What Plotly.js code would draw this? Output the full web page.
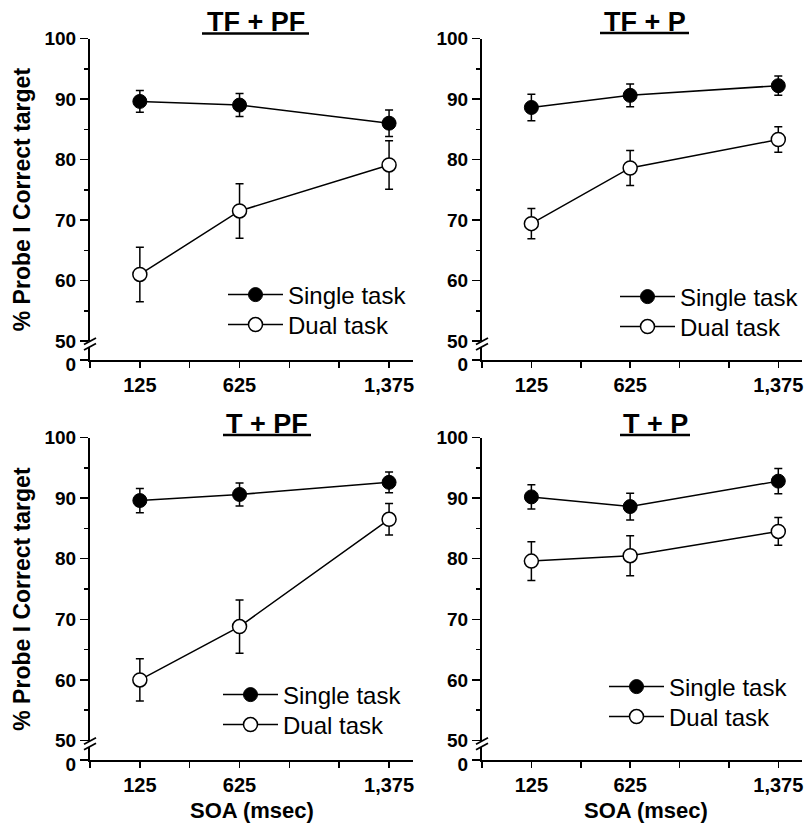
<!DOCTYPE html>
<html><head><meta charset="utf-8">
<script src="https://cdn.plot.ly/plotly-3.0.1.min.js"></script>
<style>html,body{margin:0;padding:0;background:#fff}#chart{width:805px;height:824px}</style>
</head><body><div id="chart"></div>
<script>
// ---- data ----
const soa = [125, 625, 1375];
const panelTitles = ['TF + PF', 'TF + P', 'T + PF', 'T + P'];
const seriesNames = ['Single task', 'Dual task'];

const singleTFPF = [89.6, 89.0, 86.0];
const singleTFPFerr = [1.8, 1.9, 2.2];
const dualTFPF = [61.0, 71.5, 79.1];
const dualTFPFerr = [4.5, 4.5, 4.0];

const singleTFP = [88.6, 90.6, 92.2];
const singleTFPerr = [2.2, 1.9, 1.6];
const dualTFP = [69.4, 78.6, 83.3];
const dualTFPerr = [2.5, 2.9, 2.1];

const singleTPF = [89.6, 90.6, 92.6];
const singleTPFerr = [2.0, 1.9, 1.7];
const dualTPF = [60.0, 68.8, 86.5];
const dualTPFerr = [3.5, 4.4, 2.6];

const singleTP = [90.2, 88.6, 92.8];
const singleTPerr = [2.0, 2.2, 2.1];
const dualTP = [79.6, 80.5, 84.5];
const dualTPerr = [3.2, 3.3, 2.3];

const xTickVals = [-125, 125, 375, 625, 875, 1125, 1375];
const xTickText = ['', '125', '', '625', '', '', '1,375'];
const yTickVals = [50, 60, 70, 80, 90, 100];
const yTickText = ['50', '60', '70', '80', '90', '100'];
const yMinorVals = [55, 65, 75, 85, 95];
const yLowTickVals = [0];
const yLowTickText = ['0'];
const yTitle = '% Probe I Correct target';
const xTitle = 'SOA (msec)';

// ---- layout helpers ----
const W = 805, H = 824;
const px = v => v / W;
const py = v => 1 - v / H;
const FONT = 'Liberation Sans, Arial, Helvetica, sans-serif';

const panels = [
  {single: singleTFPF, sErr: singleTFPFerr, dual: dualTFPF, dErr: dualTFPFerr,
   x0: 90, x1: 413, top: 38.5, mid: 341, lowTop: 347, bot: 360,
   title: {x: 255.5, y: 22, ux0: 202, ux1: 309, uy: 33.5},
   legend: {x: 223, y1: 295, y2: 325}, showY: true, showX: false},
  {single: singleTFP, sErr: singleTFPerr, dual: dualTFP, dErr: dualTFPerr,
   x0: 482, x1: 802, top: 38.5, mid: 341, lowTop: 347, bot: 360,
   title: {x: 644.5, y: 22, ux0: 600, ux1: 689, uy: 33},
   legend: {x: 615, y1: 297, y2: 327}, showY: false, showX: false},
  {single: singleTPF, sErr: singleTPFerr, dual: dualTPF, dErr: dualTPFerr,
   x0: 90, x1: 413, top: 437.5, mid: 740.5, lowTop: 747, bot: 760,
   title: {x: 267, y: 424, ux0: 223, ux1: 311, uy: 435},
   legend: {x: 218, y1: 695, y2: 725}, showY: true, showX: true},
  {single: singleTP, sErr: singleTPerr, dual: dualTP, dErr: dualTPerr,
   x0: 482, x1: 802, top: 437.5, mid: 740.5, lowTop: 747, bot: 760,
   title: {x: 655, y: 424, ux0: 620, ux1: 690, uy: 435},
   legend: {x: 604, y1: 687, y2: 717}, showY: false, showX: true}
];

const data = [];
const layout = {
  width: W, height: H,
  margin: {l: 0, r: 0, t: 0, b: 0},
  paper_bgcolor: '#fff', plot_bgcolor: 'rgba(0,0,0,0)',
  font: {family: FONT, color: '#000'},
  showlegend: true,
  annotations: [], shapes: []
};

const legName = k => 'legend' + (k === 1 ? '' : k);

panels.forEach((p, i) => {
  const n = i + 1;
  const xa = 'x' + (n === 1 ? '' : n);
  const ya = 'y' + (n === 1 ? '' : n);
  const yl = 'y' + (n + 4);
  const legS = legName(2 * i + 1);
  const legD = legName(2 * i + 2);

  data.push({
    type: 'scatter', mode: 'lines+markers', x: soa, y: p.single, name: seriesNames[0],
    xaxis: xa, yaxis: ya, legend: legS, cliponaxis: false,
    line: {color: '#000', width: 1.5},
    marker: {symbol: 'circle', size: 14, color: '#000', line: {color: '#000', width: 1}},
    error_y: {type: 'data', array: p.sErr, visible: true, color: '#000', thickness: 1.5, width: 4}
  });
  data.push({
    type: 'scatter', mode: 'lines+markers', x: soa, y: p.dual, name: seriesNames[1],
    xaxis: xa, yaxis: ya, legend: legD, cliponaxis: false,
    line: {color: '#000', width: 1.5},
    marker: {symbol: 'circle', size: 14, color: '#fff', line: {color: '#000', width: 1.5}},
    error_y: {type: 'data', array: p.dErr, visible: true, color: '#000', thickness: 1.5, width: 4}
  });
  // empty trace so the broken lower axis segment gets its own subplot
  data.push({
    type: 'scatter', mode: 'markers', x: [], y: [], xaxis: xa, yaxis: yl,
    showlegend: false, hoverinfo: 'skip'
  });

  const xTickFont = {family: FONT, size: 20, weight: 700, color: '#000'};
  const yTickFont = {family: FONT, size: 19, weight: 700, color: '#000'};
  layout['xaxis' + (n === 1 ? '' : n)] = {
    domain: [px(p.x0), px(p.x1)], range: [-125, 1495],
    anchor: yl, showline: true, linecolor: '#000', linewidth: 2,
    ticks: 'outside', ticklen: 6, tickwidth: 1.5, tickcolor: '#000',
    tickmode: 'array', tickvals: xTickVals, ticktext: xTickText,
    ticklabeloverflow: 'allow',
    tickfont: xTickFont,
    showgrid: false, zeroline: false, fixedrange: true
  };
  layout['yaxis' + (n === 1 ? '' : n)] = {
    domain: [py(p.mid), py(p.top)], range: [50, 100],
    anchor: xa, showline: true, linecolor: '#000', linewidth: 2,
    ticks: 'outside', ticklen: 8, tickwidth: 1.5, tickcolor: '#000',
    tickmode: 'array', tickvals: yTickVals, ticktext: yTickText,
    minor: {tickmode: 'array', tickvals: yMinorVals, ticks: 'outside', ticklen: 4, tickwidth: 1.5, tickcolor: '#000', showgrid: false},
    tickfont: yTickFont, showgrid: false, zeroline: false, fixedrange: true
  };
  layout['yaxis' + (n + 4)] = {
    domain: [py(p.bot), py(p.lowTop)], range: [0, 1],
    anchor: xa, showline: true, linecolor: '#000', linewidth: 2,
    ticks: 'outside', ticklen: 8, tickwidth: 1.5, tickcolor: '#000',
    tickmode: 'array', tickvals: yLowTickVals, ticktext: yLowTickText,
    ticklabelshift: 4,
    tickfont: yTickFont, showgrid: false, zeroline: false, fixedrange: true
  };

  [[legS, p.legend.y1], [legD, p.legend.y2]].forEach(([id, yy]) => {
    layout[id] = {
      x: px(p.legend.x), y: py(yy), xanchor: 'left', yanchor: 'middle',
      xref: 'paper', yref: 'paper',
      bgcolor: 'rgba(0,0,0,0)', borderwidth: 0,
      font: {family: FONT, size: 24, color: '#000'},
      itemwidth: 55, traceorder: 'normal'
    };
  });

  // panel title
  layout.annotations.push({
    xref: 'paper', yref: 'paper', x: px(p.title.x), y: py(p.title.y),
    xanchor: 'center', yanchor: 'middle', showarrow: false,
    text: '<b>' + panelTitles[i] + '</b>',
    font: {family: FONT, size: 27, color: '#000'}
  });
  layout.shapes.push({
    type: 'line', xref: 'paper', yref: 'paper',
    x0: px(p.title.ux0), x1: px(p.title.ux1), y0: py(p.title.uy), y1: py(p.title.uy),
    line: {color: '#000', width: 2.5}
  });

  // axis break marks
  const bx = p.x0;
  const bm = (p.mid + p.lowTop) / 2;
  [-2.75, 2.75].forEach(off => {
    layout.shapes.push({
      type: 'line', xref: 'paper', yref: 'paper',
      x0: px(bx - 6), y0: py(bm + off + 3.2), x1: px(bx + 6), y1: py(bm + off - 3.2),
      line: {color: '#000', width: 1.8}
    });
  });

  if (p.showY) {
    layout.annotations.push({
      xref: 'paper', yref: 'paper', x: px(22), y: py((p.top + p.bot) / 2),
      xanchor: 'center', yanchor: 'middle', showarrow: false, textangle: -90,
      text: '<b>' + yTitle + '</b>', font: {family: FONT, size: 23, color: '#000'}
    });
  }
  if (p.showX) {
    layout.annotations.push({
      xref: 'paper', yref: 'paper', x: px(p.x0 > 400 ? 646 : 252), y: py(810),
      xanchor: 'center', yanchor: 'middle', showarrow: false,
      text: '<b>' + xTitle + '</b>', font: {family: FONT, size: 22, color: '#000'}
    });
  }
});

Plotly.newPlot('chart', data, layout, {displayModeBar: false, staticPlot: true});
</script>
</body></html>
